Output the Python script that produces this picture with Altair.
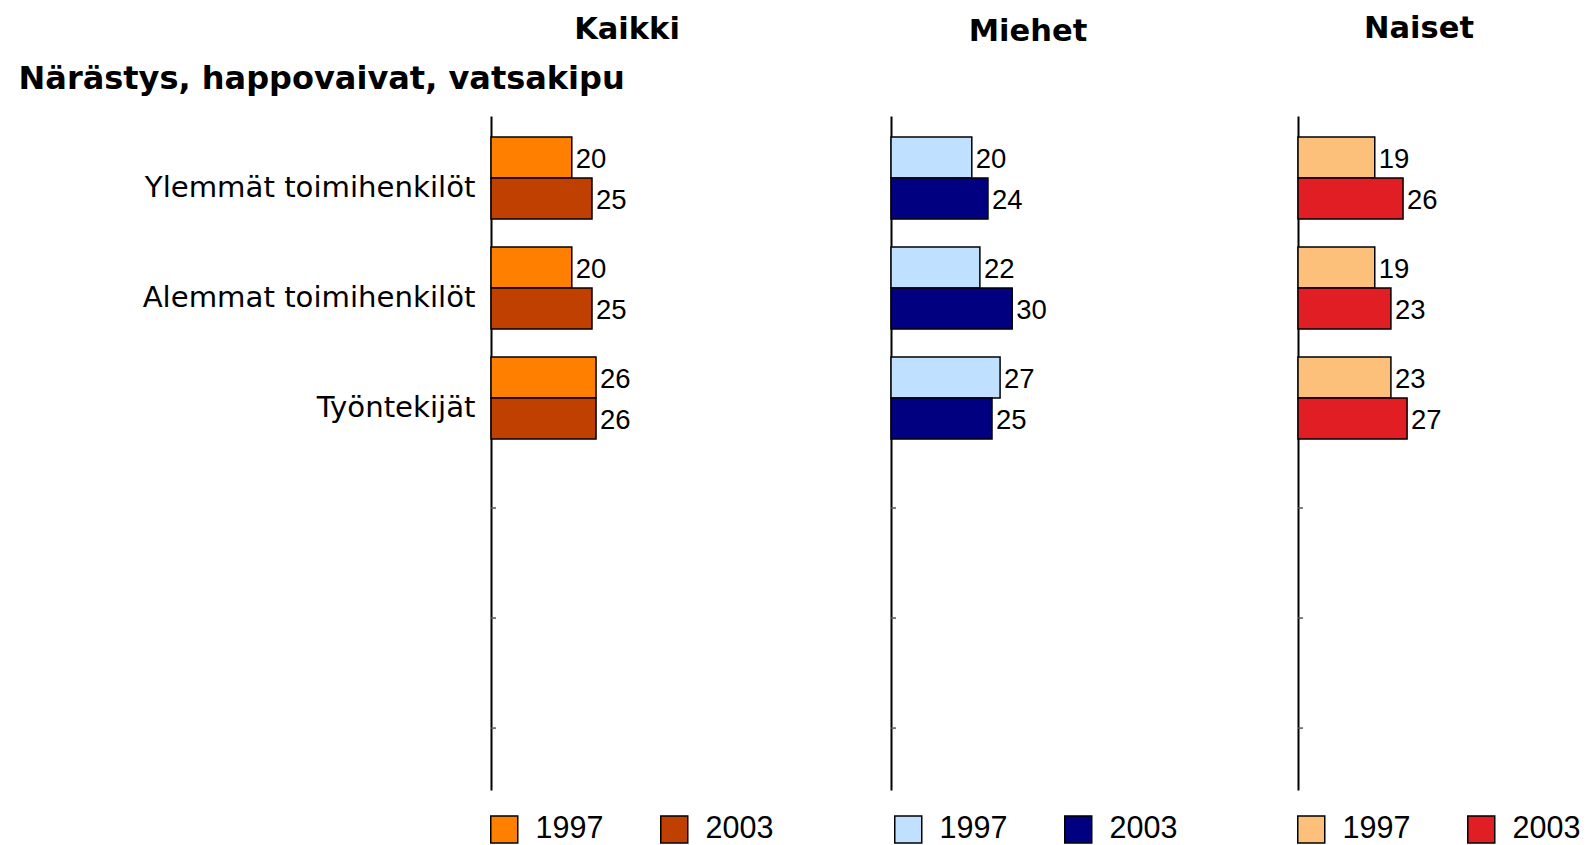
import altair as alt
import pandas as pd

categories = ["Ylemmät toimihenkilöt", "Alemmat toimihenkilöt", "Työntekijät"]
empty_slots = [" ", "  ", "   "]
years = ["1997", "2003"]

kaikki_1997 = [20, 20, 26]
kaikki_2003 = [25, 25, 26]
miehet_1997 = [20, 22, 27]
miehet_2003 = [24, 30, 25]
naiset_1997 = [19, 19, 23]
naiset_2003 = [26, 23, 27]

panel_titles = ["Kaikki", "Miehet", "Naiset"]
main_label = "Närästys, happovaivat, vatsakipu"

colors_kaikki = ["#FF8000", "#BF4000"]
colors_miehet = ["#C0E0FF", "#000080"]
colors_naiset = ["#FDC07A", "#E01E24"]

H = 674
PX_PER_UNIT = 4.04
WORD_FONT = "DejaVu Sans"
NUM_FONT = "Liberation Sans"


def make_panel(title, v97, v03, colors, width, first, title_dx, title_offset, title_dy, legend_x):
    rows = []
    for c, a, b in zip(categories, v97, v03):
        rows.append({"cat": c, "year": years[0], "value": a})
        rows.append({"cat": c, "year": years[1], "value": b})
    df = pd.DataFrame(rows)
    tick_df = pd.DataFrame({"cat": empty_slots})

    if first:
        axis = alt.Axis(
            domain=True, domainColor="black", domainWidth=2,
            ticks=False, labels=True, labelFont=WORD_FONT, labelFontSize=29.2,
            labelColor="black", labelPadding=16, labelOffset=10, labelLimit=500,
            title=main_label, titleAngle=0, titleAlign="left", titleBaseline="alphabetic",
            titleX=-473, titleY=-28, titleFont=WORD_FONT, titleFontSize=32,
            titleFontWeight="bold", titleColor="black",
        )
    else:
        axis = alt.Axis(domain=True, domainColor="black", domainWidth=2,
                        ticks=False, labels=False, title=None)

    y_scale = alt.Scale(domain=categories + empty_slots, paddingInner=0.2545, paddingOuter=0.19)
    y_enc = alt.Y("cat:N", scale=y_scale, axis=axis)
    x_enc = alt.X("value:Q", scale=alt.Scale(domain=[0, width / PX_PER_UNIT], nice=False, zero=True),
                  axis=None)
    yoff = alt.YOffset("year:N", scale=alt.Scale(domain=years, paddingInner=0, paddingOuter=0))

    bars = alt.Chart(df).mark_bar(stroke="black", strokeWidth=1.5).encode(
        x=x_enc, y=y_enc, yOffset=yoff,
        color=alt.Color("year:N", scale=alt.Scale(domain=years, range=colors),
                        legend=alt.Legend(
                            orient="none", legendX=legend_x, legendY=H + 24,
                            direction="horizontal", title=None,
                            symbolType="square", symbolSize=729,
                            symbolStrokeColor="black", symbolStrokeWidth=1.5,
                            labelFont=NUM_FONT, labelFontSize=30.5, labelColor="black",
                            labelOffset=16, columnPadding=53, padding=0,
                        )),
    )
    labels = alt.Chart(df).mark_text(
        align="left", baseline="middle", dx=4, dy=3,
        font=NUM_FONT, fontSize=27.5, color="black",
    ).encode(x=x_enc, y=y_enc, yOffset=yoff, text="value:Q")

    ticks = alt.Chart(tick_df).mark_rule(color="#555555", strokeWidth=1.5).encode(
        y=alt.Y("cat:N", scale=y_scale),
        x=alt.value(0), x2=alt.value(5),
    )

    return alt.layer(bars, labels, ticks).properties(
        width=width, height=H,
        title=alt.TitleParams(title, font=WORD_FONT, fontSize=30.5, fontWeight="bold",
                              color="black", anchor="middle", frame="group",
                              baseline="alphabetic", offset=title_offset, dx=title_dx,
                              dy=title_dy),
    )


p1 = make_panel(panel_titles[0], kaikki_1997, kaikki_2003, colors_kaikki, 290, True, -9, 0, 7.5, -2)
p2 = make_panel(panel_titles[1], miehet_1997, miehet_2003, colors_miehet, 296, False, -11, 45, 0, 2)
p3 = make_panel(panel_titles[2], naiset_1997, naiset_2003, colors_naiset, 270, False, -14, 48, 0, -2)

chart = alt.hconcat(p1, p2, p3, spacing=109).resolve_scale(
    color="independent"
).properties(
    padding={"left": 10, "top": 5, "right": 0, "bottom": 0}
).configure_view(stroke=None)

chart.save("out.html", embed_options={"renderer": "svg", "actions": False})
